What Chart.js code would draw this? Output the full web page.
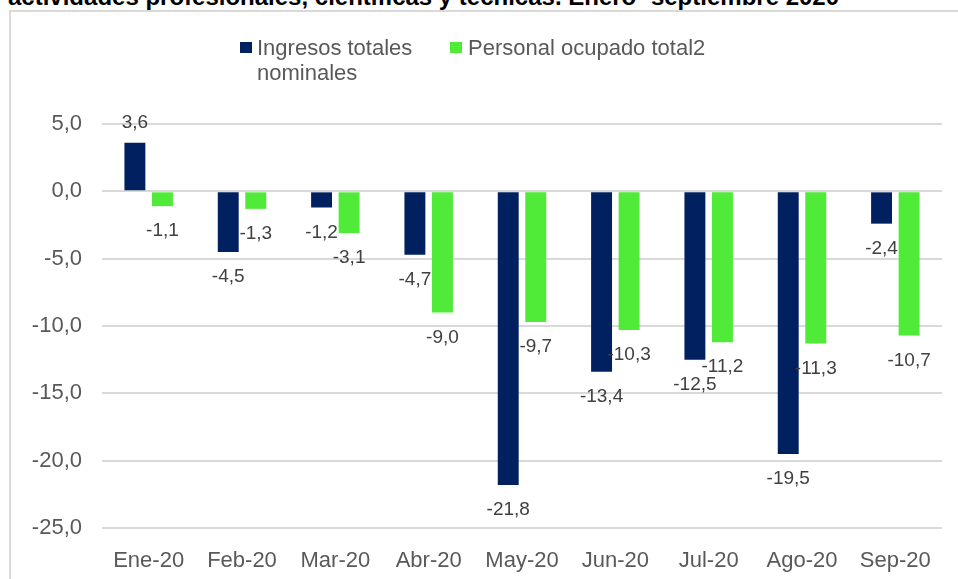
<!DOCTYPE html>
<html><head><meta charset="utf-8">
<script src="https://cdn.jsdelivr.net/npm/chart.js@4.4.0/dist/chart.umd.min.js"></script>
<style>
html,body{margin:0;padding:0;background:#fff;overflow:hidden;}
#wrap{position:relative;width:958px;height:579px;overflow:hidden;font-family:"Liberation Sans",Arial,sans-serif;}
#title{position:absolute;left:8px;top:-15px;font-weight:bold;font-size:24px;line-height:24px;color:#000;white-space:nowrap;}
#frame{position:absolute;left:9px;top:10px;width:960px;height:600px;border:2px solid #d9d9d9;box-sizing:border-box;}
canvas{position:absolute;left:0;top:0;}
.lg{position:absolute;font-size:22px;line-height:25px;color:#595959;white-space:nowrap;}
.sw{position:absolute;width:12px;height:11px;}
</style></head>
<body><div id="wrap">
<div id="title">actividades profesionales, científicas y técnicas. Enero- septiembre 2020</div>
<div id="frame"></div>
<canvas id="c" width="958" height="579"></canvas>
<div class="sw" style="left:240px;top:42px;background:#002060"></div>
<div class="lg" style="left:257px;top:35px">Ingresos totales<br>nominales</div>
<div class="sw" style="left:450px;top:42px;background:#50EA38"></div>
<div class="lg" style="left:468px;top:35px">Personal ocupado total2</div>
</div>
<script>
const categories = ["Ene-20","Feb-20","Mar-20","Abr-20","May-20","Jun-20","Jul-20","Ago-20","Sep-20"];
const ingresos = [3.6,-4.5,-1.2,-4.7,-21.8,-13.4,-12.5,-19.5,-2.4];
const personal = [-1.1,-1.3,-3.1,-9.0,-9.7,-10.3,-11.2,-11.3,-10.7];
const seriesNames = ["Ingresos totales nominales","Personal ocupado total2"];
const yMin = -25, yMax = 5, yStep = 5;

const fmt = v => v.toFixed(1).replace('.', ',');

const labelPlugin = {
  id: 'valueLabels',
  afterDatasetsDraw(chart) {
    const ctx = chart.ctx;
    ctx.save();
    ctx.font = '19px "Liberation Sans", Arial, sans-serif';
    ctx.fillStyle = '#404040';
    ctx.textAlign = 'center';
    ctx.textBaseline = 'middle';
    chart.data.datasets.forEach((ds, di) => {
      const meta = chart.getDatasetMeta(di);
      meta.data.forEach((el, i) => {
        const v = ds.data[i];
        const y = v >= 0 ? el.y - 20 : el.y + 25;
        ctx.fillText(fmt(v), el.x, y);
      });
    });
    ctx.restore();
  }
};

new Chart(document.getElementById('c'), {
  type: 'bar',
  data: {
    labels: categories,
    datasets: [
      {label: seriesNames[0], data: ingresos, backgroundColor: '#002060'},
      {label: seriesNames[1], data: personal, backgroundColor: '#50EA38'}
    ]
  },
  options: {
    responsive: false,
    animation: false,
    events: [],
    layout: {padding: {left: 0, right: 16, top: 124, bottom: 0}},
    datasets: {bar: {categoryPercentage: 0.59, barPercentage: 0.76}},
    plugins: {legend: {display: false}, title: {display: false}, tooltip: {enabled: false}},
    scales: {
      x: {
        grid: {display: false},
        border: {display: false},
        ticks: {color: '#595959', font: {family: '"Liberation Sans", Arial, sans-serif', size: 22}, padding: 12, maxRotation: 0},
        afterFit(s) { s.height = 51; }
      },
      y: {
        min: yMin, max: yMax,
        ticks: {stepSize: yStep, color: '#595959', padding: 20,
          font: {family: '"Liberation Sans", Arial, sans-serif', size: 22},
          callback: v => fmt(v)},
        grid: {color: '#d9d9d9', lineWidth: 2, drawTicks: false},
        border: {display: false},
        afterFit(s) { s.width = 102; }
      }
    }
  },
  plugins: [labelPlugin]
});
</script>
</body></html>
